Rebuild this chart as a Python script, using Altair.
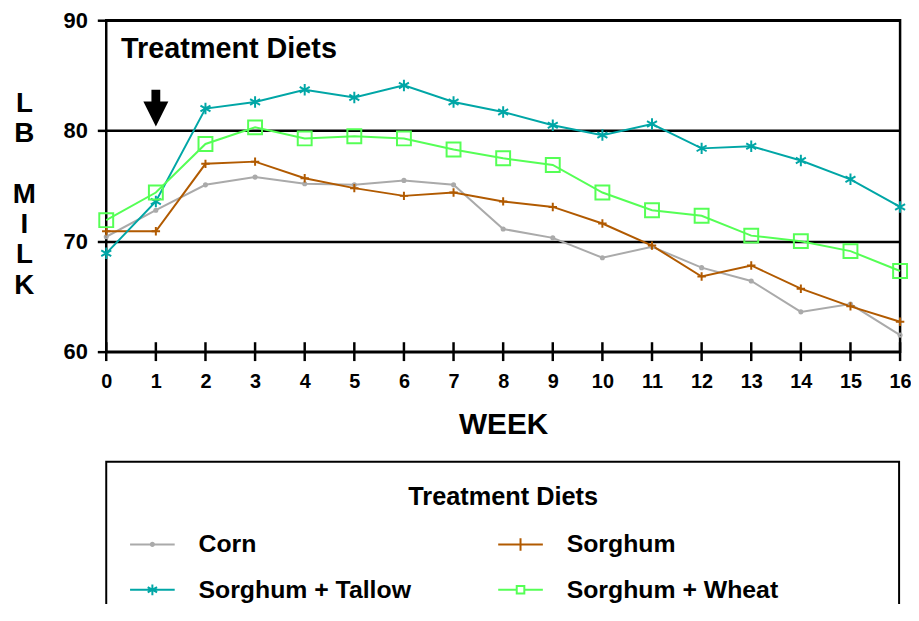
import altair as alt
import pandas as pd

FONT = "Liberation Sans"

weeks = list(range(17))
diets = ["Corn", "Sorghum", "Sorghum + Tallow", "Sorghum + Wheat"]
colors = ["#aaaaaa", "#b15a00", "#00a6a6", "#55ff55"]

corn = [70.4, 72.8, 75.1, 75.8, 75.2, 75.1, 75.5, 75.1, 71.1, 70.3, 68.5, 69.5, 67.6, 66.4, 63.6, 64.3, 61.5]
sorghum = [70.9, 70.9, 77.0, 77.2, 75.7, 74.8, 74.1, 74.4, 73.6, 73.1, 71.6, 69.6, 66.8, 67.8, 65.7, 64.1, 62.7]
tallow = [68.9, 73.6, 82.0, 82.6, 83.7, 83.0, 84.1, 82.6, 81.7, 80.5, 79.6, 80.6, 78.4, 78.6, 77.3, 75.6, 73.1]
wheat = [71.9, 74.4, 78.8, 80.3, 79.3, 79.5, 79.3, 78.3, 77.5, 76.9, 74.4, 72.8, 72.3, 70.5, 70.0, 69.1, 67.3]

y_ticks = [60, 70, 80, 90]
arrow_week = [1]
arrow_value = [82.05]

series = [corn, sorghum, tallow, wheat]
rows = []
for d, vals in zip(diets, series):
    for w, v in zip(weeks, vals):
        rows.append({"week": w, "milk": v, "diet": d})
df = pd.DataFrame(rows)

xs = alt.Scale(domain=[0, 16], nice=False, zero=False)
ys = alt.Scale(domain=[60, 90], nice=False, zero=False)

x_axis = alt.Axis(values=weeks, grid=False, ticks=False, labelPadding=20, labelFontSize=20,
                  labelFlush=False, labelOverlap=False, format="d",
                  title="WEEK", titleFontSize=30, titleY=82, titleBaseline="alphabetic")
y_axis = alt.Axis(values=y_ticks, grid=True, ticks=True, tickSize=9, labelPadding=10,
                  labelFontSize=22, format="d",
                  title=["L", "B", "\u200b", "M", "I", "L", "K"], titleAngle=0, titleX=-83,
                  titleY=92, titleAlign="center", titleBaseline="alphabetic", titleFontSize=28,
                  titleLineHeight=30.5)

X = alt.X("week:Q", scale=xs, axis=x_axis)
Y = alt.Y("milk:Q", scale=ys, axis=y_axis)

color_scale = alt.Scale(domain=diets, range=colors)

marker_paths = [
    "circle",
    "M-1,0L1,0M0,-1L0,1",
    "M0,-1L0,1M-0.87,-0.5L0.87,0.5M-0.87,0.5L0.87,-0.5",
    "square",
]
legend_paths = [
    "M-1,0L1,0M-0.07,0A0.07,0.07 0 1,0 0.07,0A0.07,0.07 0 1,0 -0.07,0",
    "M-1,0L1,0M0,-0.28L0,0.28",
    "M-1,0L1,0M0,-0.24L0,0.24M-0.21,-0.12L0.21,0.12M-0.21,0.12L0.21,-0.12",
    "M-1,0L-0.17,0M0.17,0L1,0M-0.17,-0.17L0.17,-0.17L0.17,0.17L-0.17,0.17Z",
]
ARROW = "M-0.24,-1L0.24,-1L0.24,-0.35L0.68,-0.35L0,1L-0.68,-0.35L-0.24,-0.35Z"

one = pd.DataFrame({"a": [0]})

box = alt.Chart(one).mark_rect(filled=False, stroke="black", strokeWidth=2).encode(
    x=alt.value(0), x2=alt.value(799), y=alt.value(445), y2=alt.value(700)
)

lines = alt.Chart(df).mark_line(strokeWidth=2).encode(
    x=X, y=Y,
    color=alt.Color("diet:N", scale=color_scale, legend=None),
    order="week:Q",
)

points = alt.Chart(df).mark_point(filled=False, strokeWidth=2, opacity=1).encode(
    x=X, y=Y,
    color=alt.Color("diet:N", scale=color_scale, legend=None),
    shape=alt.Shape("diet:N", scale=alt.Scale(domain=diets, range=marker_paths), legend=None),
    size=alt.Size("diet:N", scale=alt.Scale(domain=diets, range=[10, 196, 144, 90]), legend=None),
)

leg = alt.Legend(title=None, orient="none", legendX=23, legendY=504.5, columns=2,
                 direction="horizontal",
                 columnPadding=83, rowPadding=9, symbolSize=2025, symbolStrokeWidth=2,
                 labelFont=FONT, labelFontSize=25, labelFontWeight="bold", labelColor="black",
                 labelOffset=23, labelLimit=400, padding=0)

legend_layer = alt.Chart(df).transform_filter("false").mark_point(
    filled=False, strokeWidth=2, opacity=1
).encode(
    x=X, y=Y,
    color=alt.Color("diet:N", scale=color_scale, legend=leg),
    shape=alt.Shape("diet:N", scale=alt.Scale(domain=diets, range=legend_paths), legend=leg),
)

arrow = alt.Chart(pd.DataFrame({"week": arrow_week, "milk": arrow_value})).mark_point(
    shape=ARROW, filled=True, color="black", size=1369, opacity=1
).encode(x=X, y=Y)

ticks = alt.Chart(pd.DataFrame({"week": weeks, "milk": [60] * len(weeks)})).mark_tick(
    orient="vertical", color="black", thickness=2.5, size=19, opacity=1
).encode(x=X, y=Y)

plot_title = alt.Chart(one).mark_text(
    text="Treatment Diets", font=FONT, fontSize=29, fontWeight="bold", color="black",
    align="left", baseline="alphabetic"
).encode(x=alt.value(15), y=alt.value(38))

leg_title = alt.Chart(one).mark_text(
    text="Treatment Diets", font=FONT, fontSize=25.5, fontWeight="bold", color="black",
    align="center", baseline="alphabetic"
).encode(x=alt.value(400), y=alt.value(489))

chart = alt.layer(box, lines, points, legend_layer, arrow, ticks, plot_title, leg_title).resolve_scale(
    color="independent", shape="independent"
).properties(
    width=800, height=334,
    padding={"left": 99, "top": 10, "right": 11, "bottom": 252},
    autosize=alt.AutoSizeParams(type="none"),
).configure_view(
    stroke="black", strokeWidth=2.5
).configure_axis(
    labelFont=FONT, labelFontWeight="bold", labelColor="black",
    titleFont=FONT, titleFontWeight="bold", titleColor="black",
    domain=False, gridColor="black", gridWidth=2.5, gridOpacity=1,
    tickColor="black", tickWidth=2.5,
)

chart.save("out.html", embed_options={"renderer": "svg", "actions": False})
